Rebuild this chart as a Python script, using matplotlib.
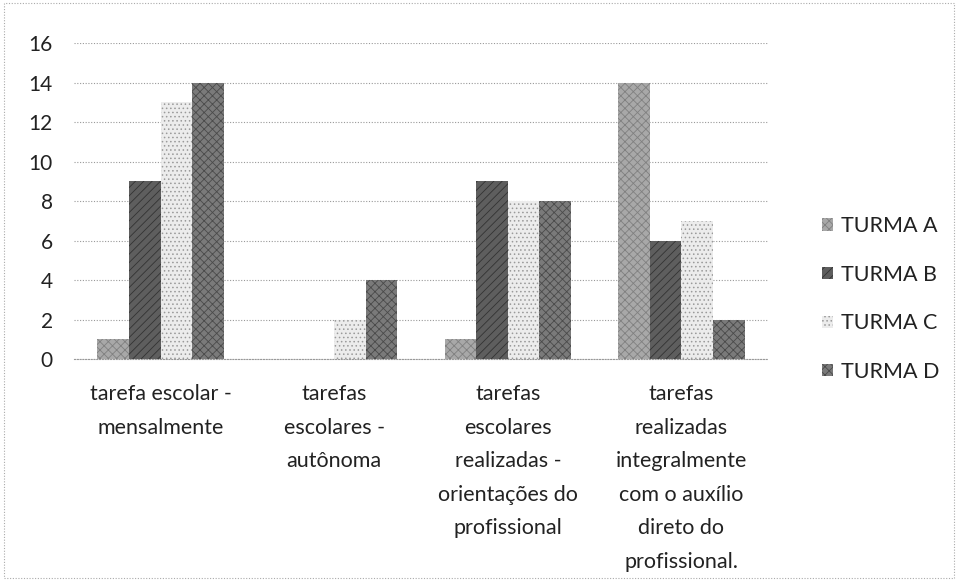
import numpy as np
import matplotlib.pyplot as plt
from matplotlib.patches import Rectangle

plt.rcParams['font.family'] = ['Lato', 'DejaVu Sans']
plt.rcParams['hatch.linewidth'] = 0.6

# dados
categorias = [
    'tarefa escolar -\nmensalmente',
    'tarefas\nescolares -\nautônoma',
    'tarefas\nescolares\nrealizadas -\norientações do\nprofissional',
    'tarefas\nrealizadas\nintegralmente\ncom o auxílio\ndireto do\nprofissional.',
]
turmas = ['TURMA A', 'TURMA B', 'TURMA C', 'TURMA D']
turma_a = [1, 0, 1, 14]
turma_b = [9, 0, 9, 6]
turma_c = [13, 2, 8, 7]
turma_d = [14, 4, 8, 2]
yticks = [0, 2, 4, 6, 8, 10, 12, 14, 16]

series = [turma_a, turma_b, turma_c, turma_d]
cores = ['#a8a8a8', '#5e5e5e', '#ececec', '#7a7a7a']
hachuras = ['xxxx', '////', '....', 'xxxx']
hcores = ['#808080', '#333333', '#9a9a9a', '#4a4a4a']

fig = plt.figure(figsize=(9.58, 5.81), dpi=100)
ax = fig.add_axes([0.077, 0.382, 0.725, 0.544])

x = np.arange(len(categorias))
w = 1 / 5.5
for i, (vals, c, h, hc) in enumerate(zip(series, cores, hachuras, hcores)):
    ax.bar(x + (i - 1.5) * w, vals, width=w, color=c, label=turmas[i],
           edgecolor=hc, hatch=h, linewidth=0, zorder=3)

ax.set_xlim(-0.5, 3.5)
ax.set_ylim(0, 16)
ax.set_yticks(yticks)
ax.set_yticklabels([str(v) for v in yticks], fontsize=15, color='#222222')
ax.set_xticks(x)
ax.set_xticklabels(categorias, fontsize=15.5, color='#222222', linespacing=1.85, va='top')
ax.tick_params(axis='y', length=0, pad=15)
ax.tick_params(axis='x', length=0, pad=18)
ax.grid(axis='y', color='#999999', linestyle=(0, (1, 1.5)), linewidth=0.8, zorder=0)
for s in ['top', 'right', 'left']:
    ax.spines[s].set_visible(False)
ax.spines['bottom'].set_color('#999999')
ax.spines['bottom'].set_linestyle((0, (1, 1.5)))

leg = ax.legend(loc='center left', bbox_to_anchor=(1.05, 0.19), frameon=False,
                fontsize=15.5, handlelength=0.5, handleheight=0.5, handletextpad=0.35,
                labelspacing=1.33, labelcolor='#222222')

fig.patches.append(Rectangle((0.004, 0.005), 0.992, 0.99, transform=fig.transFigure,
                             fill=False, edgecolor='#aaaaaa', linestyle=(0, (1, 1.5)),
                             linewidth=0.8))

plt.savefig('out.png', dpi=100)
